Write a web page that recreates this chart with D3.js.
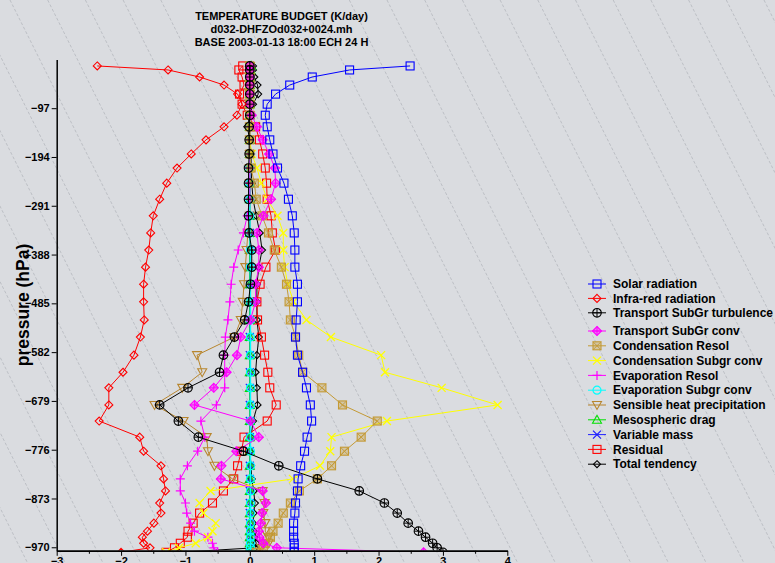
<!DOCTYPE html>
<html><head><meta charset="utf-8">
<script src="https://cdn.jsdelivr.net/npm/d3@7/dist/d3.min.js"></script>
<style>
body{margin:0;background:#dadce0;}
svg{display:block;font-family:"Liberation Sans",Arial,Helvetica,sans-serif;}
</style>
</head><body>
<svg id="chart" width="775" height="563"></svg>
<script>
// ---------------- DATA ----------------
const titleLines = ["TEMPERATURE BUDGET (K/day)", "d032-DHFZOd032+0024.mh", "BASE 2003-01-13 18:00 ECH 24 H"];
const yLabel = "pressure (hPa)";
const xTicks = [-3, -2, -1, 0, 1, 2, 3, 4];
const xMinorTicks = [-2.5, -1.5, -0.5, 0.5, 1.5, 2.5, 3.5];
const yTicks = [-97, -194, -291, -388, -485, -582, -679, -776, -873, -970];

// pressure levels (hPa, negative = as plotted)
const levels = [-13, -21, -35, -51, -69, -89, -111, -134, -160, -188, -216, -246, -278, -311, -345, -379, -413, -447, -482, -518,
  -552, -588, -622, -653, -687, -719, -751, -779, -808, -834, -858, -882, -902, -922, -938, -950, -962, -971, -980];

const solarRadiation = [2.49, 1.55, 0.97, 0.62, 0.40, 0.27, 0.24, 0.27, 0.31, 0.36, 0.43, 0.53, 0.60, 0.66, 0.69, 0.70, 0.70, 0.74, 0.74, 0.72,
  0.71, 0.74, 0.82, 0.88, 0.94, 0.96, 0.89, 0.85, 0.79, 0.75, 0.74, 0.71, 0.70, 0.68, 0.68, 0.68, 0.69, 0.69, 0.69];
const infraRed = [-2.37, -1.27, -0.78, -0.40, -0.19, -0.12, -0.20, -0.40, -0.68, -0.91, -1.13, -1.29, -1.40, -1.50, -1.54, -1.57, -1.62, -1.65, -1.65, -1.64,
  -1.70, -1.80, -1.97, -2.19, -2.19, -2.34, -1.71, -1.65, -1.38, -1.34, -1.31, -1.40, -1.38, -1.49, -1.59, -1.67, -1.65, -1.55, -2.0];
const transportTurb = [0, 0, 0, 0, 0, 0, 0, -0.01, -0.01, -0.01, -0.02, -0.02, -0.02, -0.02, -0.01, 0.03, 0.03, 0.01, -0.02, -0.08,
  -0.24, -0.41, -0.47, -0.96, -1.40, -1.11, -0.80, -0.10, 0.45, 1.05, 1.70, 2.09, 2.29, 2.46, 2.62, 2.73, 2.84, 2.91, 3.0];
const transportConv = [0, 0, 0, 0, 0, 0, 0.03, 0.11, 0.20, 0.30, 0.39, 0.40, 0.33, 0.21, 0.11, 0.14, 0.14, 0.09, 0.09, 0.01,
  -0.14, -0.20, -0.36, -0.56, -0.86, 0.01, 0.14, -0.21, -0.44, -0.45, 0.20, 0.25, 0.19, 0.17, 0.14, 0.15, 0.21, 0.42, 2.7];
const condensationResol = [0, 0, 0, 0, 0, 0, 0, 0, 0, 0, 0.02, 0.07, 0.10, 0.19, 0.29, 0.38, 0.49, 0.57, 0.61, 0.63,
  0.71, 0.76, 0.82, 1.12, 1.44, 1.98, 1.73, 1.47, 1.27, 1.05, 0.77, 0.63, 0.52, 0.44, 0.36, 0.32, 0.24, 0.21, 0.1];
const condensationConv = [0, 0, 0, 0, 0, 0, 0, 0, 0, 0.03, 0.11, 0.18, 0.27, 0.43, 0.52, 0.52, 0.54, 0.59, 0.68, 0.88,
  1.26, 2.04, 2.10, 2.98, 3.85, 2.13, 1.27, 1.25, 1.09, 0.67, -0.61, -0.78, -0.72, -0.53, -0.58, -0.65, -0.84, -1.10, -1.3];
const evaporationResol = [0, 0, 0, 0, 0, 0, 0, 0, 0, 0, 0, 0, 0, -0.04, -0.10, -0.18, -0.25, -0.29, -0.31, -0.34,
  -0.38, -0.39, -0.39, -0.39, -0.52, -0.76, -0.70, -0.81, -0.97, -1.08, -1.08, -1.00, -0.98, -0.92, -0.86, -0.65, -0.58, -0.56, -0.5];
const evaporationConv = [0, 0, 0, 0, 0, 0, 0, 0, 0, 0, 0, 0, 0, 0, 0, 0.01, 0.01, 0.01, 0.01, 0.01,
  0.01, 0.01, 0.01, 0.01, 0.01, 0.01, 0.01, 0.01, 0.01, 0.01, 0.01, 0.01, 0.01, 0.01, 0.01, 0.01, 0.01, 0.01, 0.01];
const sensibleHeat = [0, 0, 0, 0, 0, 0, 0, 0, 0, 0, 0, 0, 0, 0, -0.03, -0.05, -0.07, -0.09, -0.11, -0.14,
  -0.24, -0.82, -0.74, -1.05, -1.48, -1.03, -0.67, -0.65, -0.55, -0.27, 0.20, 0.23, 0.21, 0.24, 0.24, 0.29, 0.29, 0.18, 0.1];
const mesosphericDrag = [0.02, 0.01, 0, 0, 0, 0, 0, 0, 0, 0, 0, 0, 0, 0, 0, 0, 0, 0, 0, 0,
  0, 0, 0, 0, 0, 0, 0, 0, 0, 0, 0, 0, 0, 0, 0, 0, 0, 0, 0];
const variableMass = [0, 0, 0, 0, 0, 0, 0, 0, 0, 0, 0, 0, 0, 0, 0, 0, 0, 0, 0, 0,
  0, 0, 0, 0, 0, 0, 0, 0, 0, 0, 0, 0, 0, 0, 0, 0, 0, 0, 0];
const residual = [-0.11, -0.17, -0.12, -0.09, -0.16, -0.12, -0.04, 0.09, 0.15, 0.20, 0.24, 0.26, 0.27, 0.33, 0.35, 0.40, 0.25, 0.16, 0.11, 0.12,
  0.18, 0.23, 0.28, 0.31, 0.41, 0.27, -0.09, -0.13, -0.19, -0.25, -0.41, -0.58, -0.78, -0.88, -0.96, -0.97, -1.08, -1.17, -1.3];
const totalTendency = [0.05, 0.05, 0.07, 0.12, 0.13, 0.05, 0, -0.04, 0, 0.02, 0.02, 0.03, 0.05, 0.10, 0.155, 0.19, 0.14, 0.11, 0.11, 0.11,
  0.14, 0.11, 0.09, 0.11, 0.12, 0.05, 0.02, 0, 0.02, 0.03, 0.06, 0.08, 0.06, 0.05, 0.06, 0.07, 0.10, 0.08, -1.1];

const seriesNames = ["Solar radiation", "Infra-red radiation", "Transport SubGr turbulence", "Transport SubGr conv",
  "Condensation Resol", "Condensation Subgr conv", "Evaporation Resol", "Evaporation Subgr conv",
  "Sensible heat precipitation", "Mesospheric drag", "Variable mass", "Residual", "Total tendency"];
const seriesValues = [solarRadiation, infraRed, transportTurb, transportConv, condensationResol, condensationConv,
  evaporationResol, evaporationConv, sensibleHeat, mesosphericDrag, variableMass, residual, totalTendency];
const seriesColors = ["#0000ff", "#ff0000", "#000000", "#ff00ff", "#c49a35", "#ffff00", "#ff00ff", "#00ffff",
  "#b8862e", "#00e000", "#2020ff", "#ff0000", "#000000"];
const seriesMarkers = ["square", "diamond", "circlePlus", "diamondPlus", "squareX", "x", "plus", "circle",
  "triDown", "triUp", "x", "square", "smallDiamond"];

// ---------------- CHART ----------------
const W = 775, H = 563;
const svg = d3.select("#chart");

svg.append("rect").attr("width", W).attr("height", H).attr("fill", "#dadce0");

// background diagonal hatch
const hatchStarts = d3.range(-12, 22).map(i => i * 37.7 + 10);
svg.append("g").selectAll("line").data(hatchStarts).join("line")
  .attr("x1", d => d).attr("y1", 0).attr("x2", d => d + H / 2).attr("y2", H)
  .attr("stroke", "#a8abb1").attr("stroke-width", 0.6).attr("stroke-dasharray", "3,2");

const x = d3.scaleLinear().domain([-3, 4]).range([56.7, 507.3]);
const y = d3.scaleLinear().domain([0, -977]).range([59.4, 550.8]);

svg.append("defs").append("clipPath").attr("id", "plotclip")
  .append("rect").attr("x", 0).attr("y", 40).attr("width", W).attr("height", 550.6 - 40);

function drawMarker(g, type, color) {
  switch (type) {
    case "square":
      g.append("rect").attr("x", -4).attr("y", -4).attr("width", 8).attr("height", 8)
        .attr("fill", "none").attr("stroke", color).attr("stroke-width", 1.1); break;
    case "diamond":
      g.append("path").attr("d", "M0,-4L4,0L0,4L-4,0Z").attr("fill", "none").attr("stroke", color).attr("stroke-width", 1.1); break;
    case "smallDiamond":
      g.append("path").attr("d", "M0,-3.5L3.5,0L0,3.5L-3.5,0Z").attr("fill", "none").attr("stroke", color).attr("stroke-width", 1.1); break;
    case "circlePlus":
      g.append("circle").attr("r", 4.3).attr("fill", "none").attr("stroke", color).attr("stroke-width", 1.1);
      g.append("path").attr("d", "M-4.3,0H4.3M0,-4.3V4.3").attr("stroke", color).attr("stroke-width", 1); break;
    case "diamondPlus":
      g.append("path").attr("d", "M0,-4.5L4.5,0L0,4.5L-4.5,0Z").attr("fill", color).attr("fill-opacity", 0.4).attr("stroke", color).attr("stroke-width", 1.1);
      g.append("path").attr("d", "M-4.5,0H4.5M0,-4.5V4.5").attr("stroke", color).attr("stroke-width", 1); break;
    case "squareX":
      g.append("rect").attr("x", -4).attr("y", -4).attr("width", 8).attr("height", 8)
        .attr("fill", color).attr("fill-opacity", 0.35).attr("stroke", color).attr("stroke-width", 1.1);
      g.append("path").attr("d", "M-4,-4L4,4M4,-4L-4,4").attr("stroke", color).attr("stroke-width", 0.9); break;
    case "x":
      g.append("path").attr("d", "M-4,-4L4,4M4,-4L-4,4").attr("stroke", color).attr("stroke-width", 1.3); break;
    case "plus":
      g.append("path").attr("d", "M-4.5,0H4.5M0,-4.5V4.5").attr("stroke", color).attr("stroke-width", 1.2); break;
    case "circle":
      g.append("circle").attr("r", 4).attr("fill", "none").attr("stroke", color).attr("stroke-width", 1.2); break;
    case "triDown":
      g.append("path").attr("d", "M-4.5,-3.5H4.5L0,4.5Z").attr("fill", "none").attr("stroke", color).attr("stroke-width", 1.1); break;
    case "triUp":
      g.append("path").attr("d", "M-4.5,3.5H4.5L0,-4.5Z").attr("fill", "none").attr("stroke", color).attr("stroke-width", 1.1); break;
  }
}

const plot = svg.append("g").attr("clip-path", "url(#plotclip)");
const line = d3.line().x(d => x(d[0])).y(d => y(d[1]));

// draw in reverse legend order so that the first series end up on top
d3.range(seriesValues.length - 1, -1, -1).forEach(si => {
  const vals = seriesValues[si];
  const pts = vals.map((v, i) => [v, levels[i]]);
  const col = seriesColors[si];
  const sg = plot.append("g");
  sg.append("path").datum(pts).attr("d", line).attr("fill", "none")
    .attr("stroke", col).attr("stroke-width", si === 7 ? 1.4 : 1);
  pts.forEach(p => {
    const g = sg.append("g").attr("transform", `translate(${x(p[0])},${y(p[1])})`);
    drawMarker(g, seriesMarkers[si], col);
  });
});

// axes
const axisStyle = g => {
  g.selectAll("path.domain").attr("stroke", "#000").attr("stroke-width", 1.5);
  g.selectAll(".tick line").attr("stroke", "#000").attr("stroke-width", 1);
  g.selectAll("text").attr("font-size", "11px").attr("font-weight", "bold").attr("fill", "#000")
    .attr("font-family", '"Liberation Sans",Arial,sans-serif');
};

svg.append("g").attr("transform", "translate(0,550.8)")
  .call(d3.axisBottom(x).tickValues(xMinorTicks).tickSize(3).tickSizeOuter(0).tickFormat(""))
  .call(axisStyle);
svg.append("g").attr("transform", "translate(0,550.8)")
  .call(d3.axisBottom(x).tickValues(xTicks).tickSize(5).tickSizeOuter(0).tickPadding(1).tickFormat(d3.format("d")))
  .call(axisStyle);

svg.append("g").attr("transform", "translate(56.7,0)")
  .call(d3.axisLeft(y).tickValues(yTicks).tickSize(5).tickSizeOuter(0).tickPadding(2).tickFormat(d3.format("d")))
  .call(axisStyle);

// y label
svg.append("text").attr("transform", "translate(29,305) rotate(-90)")
  .attr("text-anchor", "middle").attr("font-size", "17.5px").attr("font-weight", "bold").text(yLabel);

// title
svg.append("g").selectAll("text").data(titleLines).join("text")
  .attr("x", 281.5).attr("y", (d, i) => 19.5 + i * 13)
  .attr("text-anchor", "middle").attr("font-size", "11px").attr("font-weight", "bold").text(d => d);

// legend
const legend = svg.append("g");
seriesNames.forEach((name, i) => {
  const ly = i < 3 ? 284 + i * 14.4 : 331 + (i - 3) * 14.8;
  const g = legend.append("g").attr("transform", `translate(0,${ly})`);
  g.append("line").attr("x1", 588).attr("x2", 606).attr("y1", 0).attr("y2", 0)
    .attr("stroke", seriesColors[i]).attr("stroke-width", 1);
  drawMarker(g.append("g").attr("transform", "translate(597,0)"), seriesMarkers[i], seriesColors[i]);
  g.append("text").attr("x", 613).attr("y", 4.2).attr("font-size", "12px").attr("font-weight", "bold").text(name);
});
</script>
</body></html>
